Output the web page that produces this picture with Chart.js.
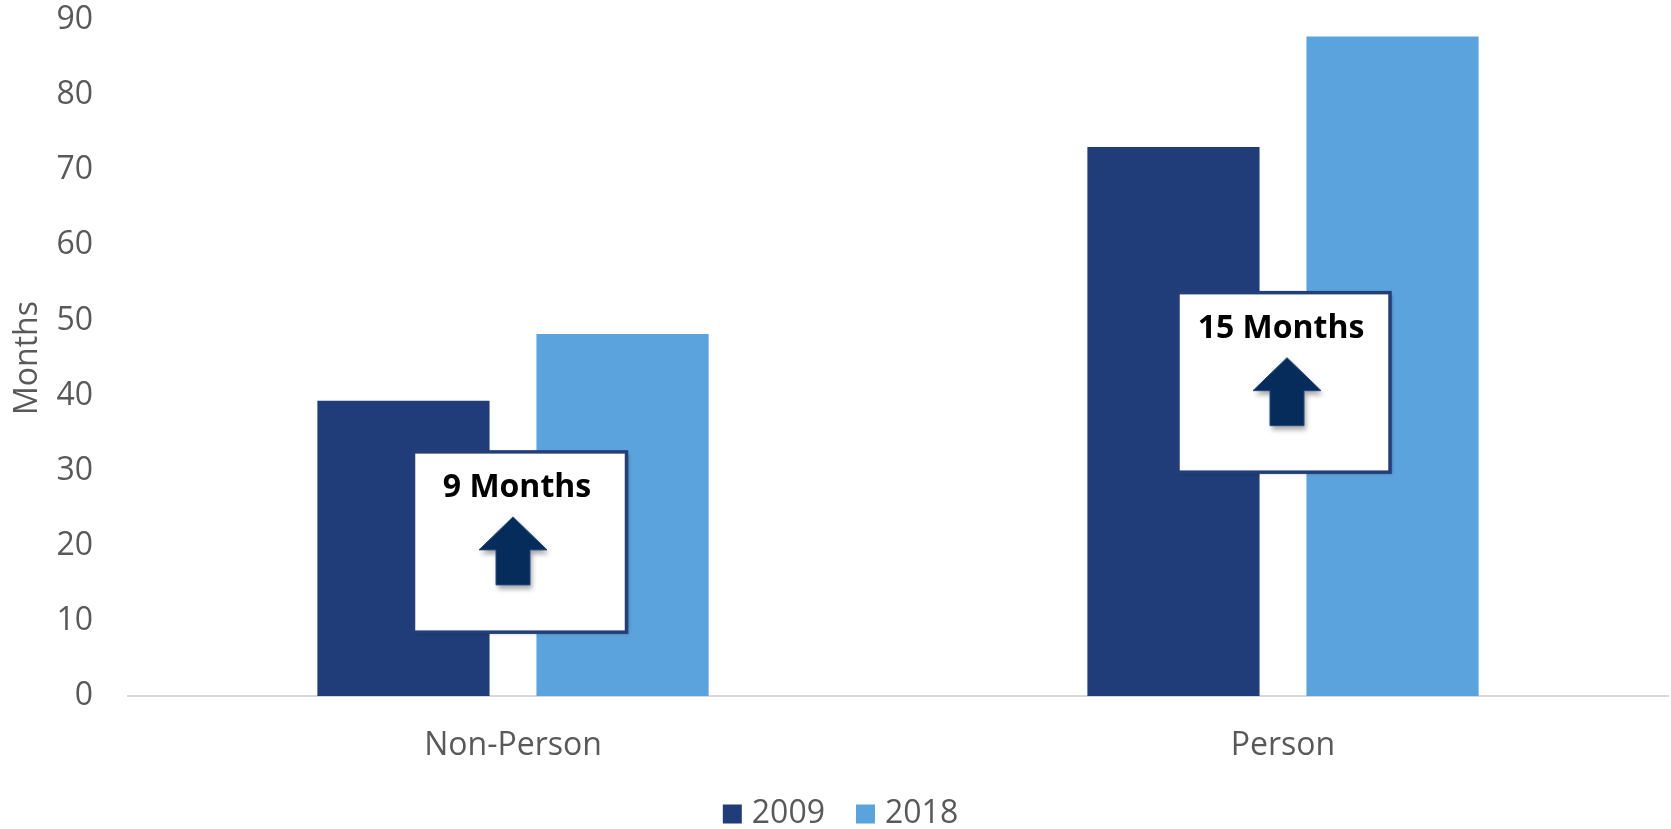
<!DOCTYPE html>
<html>
<head>
<meta charset="utf-8">
<script src="https://cdn.jsdelivr.net/npm/chart.js@4/dist/chart.umd.min.js"></script>
<style>
  html, body { margin: 0; padding: 0; background: #fff; }
  #wrap { width: 1671px; height: 829px; }
</style>
</head>
<body>
<div id="wrap"><canvas id="chart"></canvas></div>
<script>
// data
const categories = ['Non-Person', 'Person'];
const series2009 = [39.3, 73.1];
const series2018 = [48.2, 87.8];
const increaseLabels = ['9 Months', '15 Months'];

const FONT = '"Open Sans", sans-serif';
const GREY = '#595959';

// callout boxes with up arrows, placed per category
const calloutPlugin = {
    id: 'callouts',
    afterDatasetsDraw(chart) {
        const ctx = chart.ctx;
        const xs = chart.scales.x;
        const ys = chart.scales.y;
        // box spans (value units) + horizontal nudges from category centre
        const boxes = [
            { lo: 8.5, hi: 32.5, dx: 7, w: 213, arrowDx: -7 },
            { lo: 29.8, hi: 53.7, dx: 1, w: 212, arrowDx: 3 }
        ];
        boxes.forEach((b, i) => {
            const cx = xs.getPixelForValue(i) + b.dx;
            const top = ys.getPixelForValue(b.hi);
            const bot = ys.getPixelForValue(b.lo);
            const left = cx - b.w / 2;

            ctx.save();
            ctx.shadowColor = 'rgba(0,0,0,0.35)';
            ctx.shadowBlur = 3;
            ctx.shadowOffsetX = 2;
            ctx.shadowOffsetY = 2;
            ctx.fillStyle = '#fff';
            ctx.fillRect(left, top, b.w, bot - top);
            ctx.restore();

            ctx.save();
            ctx.strokeStyle = '#243f78';
            ctx.lineWidth = 3.5;
            ctx.strokeRect(left, top, b.w, bot - top);
            ctx.restore();

            // label
            ctx.save();
            ctx.font = 'bold 32px ' + FONT;
            ctx.fillStyle = '#000';
            ctx.textAlign = 'center';
            ctx.textBaseline = 'middle';
            ctx.fillText(increaseLabels[i], cx - 3, top + 36);
            ctx.restore();

            // arrow
            const ax = cx + b.arrowDx;
            const tipY = top + 65;
            ctx.save();
            ctx.shadowColor = 'rgba(0,0,0,0.35)';
            ctx.shadowBlur = 5;
            ctx.shadowOffsetX = 2;
            ctx.shadowOffsetY = 4;
            ctx.fillStyle = '#062c5c';
            ctx.strokeStyle = '#25487e';
            ctx.lineWidth = 1;
            ctx.beginPath();
            ctx.moveTo(ax, tipY);
            ctx.lineTo(ax + 34, tipY + 33);
            ctx.lineTo(ax + 17, tipY + 33);
            ctx.lineTo(ax + 17, tipY + 68);
            ctx.lineTo(ax - 17, tipY + 68);
            ctx.lineTo(ax - 17, tipY + 33);
            ctx.lineTo(ax - 34, tipY + 33);
            ctx.closePath();
            ctx.fill();
            ctx.shadowColor = 'transparent';
            ctx.stroke();
            ctx.restore();
        });
    }
};

// legend drawn by hand so the item gap can differ from the vertical spacing
const legendPlugin = {
    id: 'bottomLegend',
    afterDraw(chart) {
        const ctx = chart.ctx;
        const box = 19, textGap = 10, itemGap = 31;
        ctx.save();
        ctx.font = '32px ' + FONT;
        ctx.textBaseline = 'middle';
        const items = chart.data.datasets.map(ds => ({
            text: ds.label,
            color: ds.backgroundColor,
            w: ctx.measureText(ds.label).width
        }));
        let total = 0;
        items.forEach((it, i) => {
            total += box + textGap + it.w + (i < items.length - 1 ? itemGap : 0);
        });
        let x = chart.width / 2 - total / 2 + 5;
        const cy = 814;
        items.forEach(it => {
            ctx.fillStyle = it.color;
            ctx.fillRect(x, cy - box / 2, box, box);
            x += box + textGap;
            ctx.fillStyle = GREY;
            ctx.fillText(it.text, x, cy);
            x += it.w + itemGap;
        });
        ctx.restore();
    }
};

const ctx = document.getElementById('chart').getContext('2d');
const chart = new Chart(ctx, {
    type: 'bar',
    data: {
        labels: categories,
        datasets: [{
            label: '2009',
            data: series2009,
            backgroundColor: '#213d79'
        },
        {
            label: '2018',
            data: series2018,
            backgroundColor: '#5ba3dc'
        }]
    },
    options: {
        responsive: true,
        maintainAspectRatio: false,
        animation: false,
        categoryPercentage: 0.569,
        barPercentage: 0.786,
        layout: {
            padding: { left: 0, right: 3, top: 0, bottom: 40 }
        },
        plugins: {
            tooltip: { enabled: false },
            legend: { display: false }
        },
        scales: {
            x: {
                grid: { display: false, drawTicks: false },
                border: { color: '#d9d9d9', width: 2 },
                ticks: {
                    color: GREY,
                    padding: 31,
                    font: { family: FONT, size: 32 }
                },
                afterFit(scale) { scale.height = 93; }
            },
            y: {
                min: 0,
                max: 90,
                grid: { display: false, drawTicks: false },
                border: { display: false },
                ticks: {
                    stepSize: 10,
                    color: GREY,
                    padding: 35,
                    font: { family: FONT, size: 32 }
                },
                title: {
                    display: true,
                    text: 'Months',
                    color: GREY,
                    padding: { top: 9, bottom: 0 },
                    font: { family: FONT, size: 32 }
                },
                afterFit(scale) {
                    scale.width = 128;
                    // tick padding also pads the top, keep top tight like the original
                    scale.paddingTop = 20;
                    scale.paddingBottom = 0;
                }
            }
        }
    },
    plugins: [calloutPlugin, legendPlugin]
});
</script>
</body>
</html>
